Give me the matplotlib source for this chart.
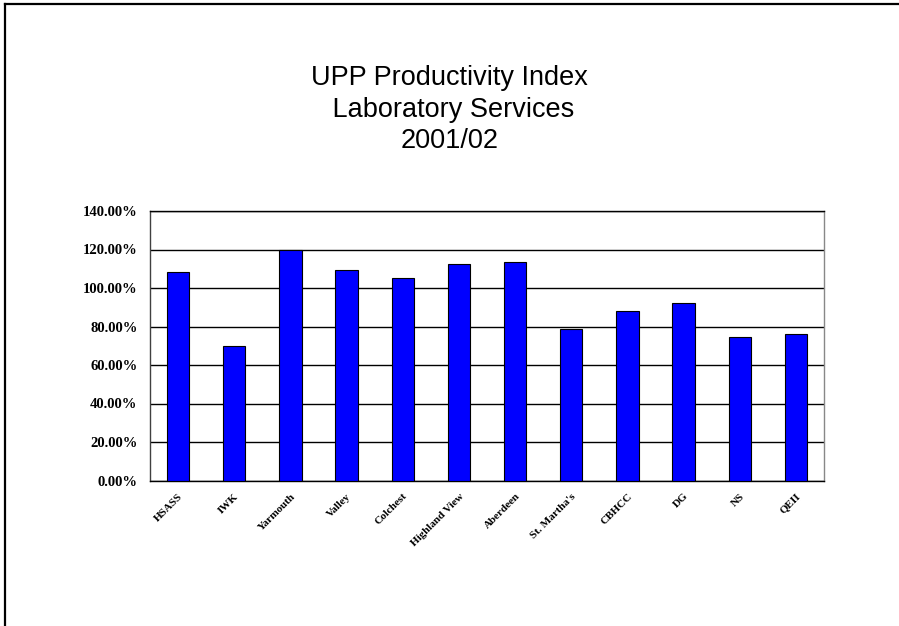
import matplotlib.pyplot as plt
from matplotlib.lines import Line2D
from matplotlib.ticker import FuncFormatter

# Дані з графіка
sites = ['HSASS', 'IWK', 'Yarmouth', 'Valley', 'Colchester', 'Highland View',
         'Aberdeen', "St. Martha's", 'CBHCC', 'DG', 'NS', 'QEII']
tick_labels = ['HSASS', 'IWK', 'Yarmouth', 'Valley', 'Colchest', 'Highland View',
               'Aberdeen', "St. Martha's", 'CBHCC', 'DG', 'NS', 'QEII']
productivity = [108.5, 69.9, 120.0, 109.4, 105.4, 112.6,
                113.3, 78.9, 88.1, 92.0, 74.4, 76.1]
y_ticks = [0, 20, 40, 60, 80, 100, 120, 140]

fig = plt.figure(figsize=(8.99, 6.26), dpi=100)

# Рамка навколо малюнка (верх і ліва сторона)
fig.add_artist(Line2D([5 / 899, 1], [1 - 4 / 626, 1 - 4 / 626],
                      transform=fig.transFigure, color='black', lw=1.6))
fig.add_artist(Line2D([5 / 899, 5 / 899], [0, 1 - 4 / 626],
                      transform=fig.transFigure, color='black', lw=1.6))

ax = fig.add_axes([150 / 899, 145.5 / 626, 674 / 899, 269.5 / 626])

x = range(len(sites))
ax.bar(x, productivity, width=0.4, color='#0000FF', edgecolor='black',
       linewidth=0.8, zorder=3)

ax.set_xlim(-0.5, len(sites) - 0.5)
ax.set_ylim(0, 140)
ax.set_yticks(y_ticks)
ax.yaxis.set_major_formatter(FuncFormatter(lambda v, p: f'{v:.2f}%'))
ax.grid(axis='y', color='black', linewidth=1.0, zorder=0)

for lbl in ax.get_yticklabels():
    lbl.set_fontfamily('Liberation Serif')
    lbl.set_fontweight('bold')
    lbl.set_fontsize(10.5)

ax.set_xticks(list(x))
ax.set_xticklabels(tick_labels, rotation=45, ha='right', rotation_mode='anchor',
                   fontfamily='Liberation Serif', fontweight='bold', fontsize=8)
ax.tick_params(axis='both', length=0)
ax.tick_params(axis='y', pad=9)
ax.tick_params(axis='x', pad=8)

ax.spines['left'].set_color('#404040')
ax.spines['right'].set_color('#888888')
ax.spines['top'].set_color('black')
ax.spines['bottom'].set_color('black')
for s in ax.spines.values():
    s.set_linewidth(1.0)

fig.text(0.5, 1 - 78 / 626, 'UPP Productivity Index', ha='center', va='center',
         fontfamily='Liberation Sans', fontsize=19.5)
fig.text(0.5, 1 - 110 / 626, ' Laboratory Services', ha='center', va='center',
         fontfamily='Liberation Sans', fontsize=19.5)
fig.text(0.5, 1 - 141 / 626, '2001/02', ha='center', va='center',
         fontfamily='Liberation Sans', fontsize=19.5)

plt.savefig('out.png', dpi=100)
